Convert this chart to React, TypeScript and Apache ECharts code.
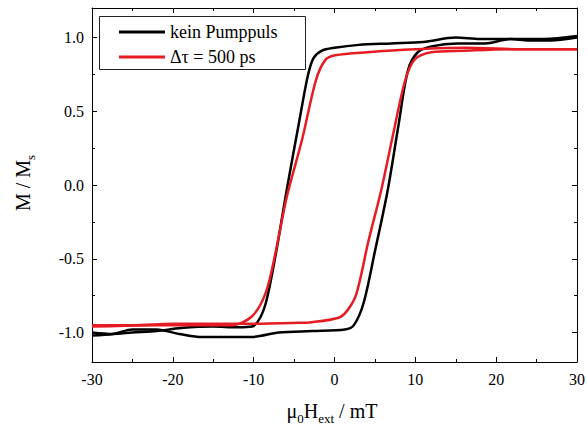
import React, { useEffect, useRef } from "react";
import * as echarts from "echarts";

const FONT = "Liberation Serif";

const seriesNames = ["kein Pumppuls", "Δτ = 500 ps"];
const seriesColors = ["#000000", "#e51c23"];

// black loop: descending branch (+30 -> -30)
const blackDescH = [30, 26, 22, 18, 15, 11, 7, 3, 0, -1.6, -2.6, -3.3, -4.4, -5.9, -7.3, -8.4, -9.2, -10.2, -12, -15, -19, -22, -25, -27.5, -30];
const blackDescM = [1.01, 0.99, 0.99, 0.99, 1.0, 0.97, 0.96, 0.95, 0.93, 0.91, 0.86, 0.74, 0.42, -0.03, -0.48, -0.78, -0.9, -0.96, -0.965, -0.96, -0.97, -0.99, -1.0, -1.01, -1.0];
// black loop: ascending branch (-30 -> +30)
const blackAscH = [-30, -27.4, -25, -22, -19.2, -16.7, -13, -10.2, -6.9, -2.8, 1.3, 2.4, 3.6, 5.0, 6.6, 7.9, 9.1, 10.3, 12, 15.2, 18.6, 21.8, 24, 26.7, 30];
const blackAscM = [-1.02, -1.01, -0.98, -0.98, -1.01, -1.03, -1.03, -1.03, -1.0, -0.99, -0.98, -0.95, -0.8, -0.45, -0.03, 0.4, 0.78, 0.9, 0.94, 0.96, 0.96, 0.99, 0.98, 0.98, 1.0];

// red loop: descending branch
const redDescH = [30, 24, 16, 10, 4, 0.1, -1.1, -2.3, -4.0, -5.9, -7.3, -8.5, -10.2, -12.7, -16.7, -22, -26, -30];
const redDescM = [0.92, 0.92, 0.93, 0.92, 0.9, 0.88, 0.85, 0.71, 0.31, -0.08, -0.46, -0.73, -0.89, -0.95, -0.95, -0.95, -0.955, -0.96];
// red loop: ascending branch
const redAscH = [-30, -25, -20, -15, -10.2, -5, -2.8, 0.5, 1.6, 2.7, 4.2, 5.8, 7.2, 8.7, 9.9, 12, 16, 22, 26, 30];
const redAscM = [-0.95, -0.95, -0.94, -0.94, -0.94, -0.935, -0.93, -0.9, -0.85, -0.74, -0.38, -0.03, 0.33, 0.7, 0.85, 0.9, 0.91, 0.92, 0.92, 0.92];

const yMajorTicks = [-1.0, -0.5, 0.0, 0.5, 1.0];
const yMinorTicks = [-0.75, -0.25, 0.25, 0.75];

const zip = (xs: number[], ys: number[]) => xs.map((x, i) => [x, ys[i]]);

export default function App() {
  const ref = useRef<HTMLDivElement>(null);
  useEffect(() => {
    if (!ref.current) return;
    const chart = echarts.init(ref.current, null, { renderer: "svg" });
    const black = "#000";
    const xAxisBase = (pos: "bottom" | "top", showLabel: boolean) => ({
      type: "value",
      position: pos,
      min: -30,
      max: 30,
      interval: 10,
      axisLine: { show: true, onZero: false, lineStyle: { color: black, width: 1 } },
      axisTick: { show: true, inside: true, length: 5, lineStyle: { color: black } },
      minorTick: { show: true, splitNumber: 2, length: 3, lineStyle: { color: black } },
      splitLine: { show: false },
      minorSplitLine: { show: false },
      axisLabel: { show: showLabel, color: black, fontFamily: FONT, fontSize: 16, margin: 9 },
    });
    const yAxisBase = (pos: "left" | "right", major: boolean, showLabel: boolean) => ({
      type: "value",
      position: pos,
      min: -1.2,
      max: 1.2,
      axisLine: { show: major, onZero: false, lineStyle: { color: black, width: 1 } },
      axisTick: {
        show: true,
        inside: true,
        length: major ? 5 : 3,
        customValues: major ? yMajorTicks : yMinorTicks,
        lineStyle: { color: black },
      },
      splitLine: { show: false },
      axisLabel: {
        show: showLabel,
        customValues: yMajorTicks,
        color: black,
        fontFamily: FONT,
        fontSize: 16,
        margin: 8,
        formatter: (v: number) => v.toFixed(1),
      },
    });
    const mkSeries = (name: string, color: string, data: number[][]) => ({
      type: "line",
      name,
      data,
      xAxisIndex: 0,
      yAxisIndex: 0,
      showSymbol: false,
      symbol: "none",
      smooth: 0.3,
      lineStyle: { color, width: 2.5 },
      itemStyle: { color },
    });
    chart.setOption({
      animation: false,
      backgroundColor: "#fff",
      textStyle: { fontFamily: FONT },
      grid: { left: 92, right: 8, top: 8, bottom: 68 },
      legend: {
        data: seriesNames,
        orient: "vertical",
        left: 99,
        top: 16,
        padding: [7, 20, 3, 20],
        itemGap: 7,
        icon: "rect",
        itemWidth: 46,
        itemHeight: 3,
        borderWidth: 0,
        textStyle: { color: black, fontFamily: FONT, fontSize: 18, lineHeight: 18 },
        z: 5,
      },
      xAxis: [xAxisBase("bottom", true), xAxisBase("top", false)],
      yAxis: [
        yAxisBase("left", true, true),
        yAxisBase("left", false, false),
        yAxisBase("right", true, false),
        yAxisBase("right", false, false),
      ],
      series: [
        mkSeries(seriesNames[0], seriesColors[0], zip(blackDescH, blackDescM)),
        mkSeries(seriesNames[0], seriesColors[0], zip(blackAscH, blackAscM)),
        mkSeries(seriesNames[1], seriesColors[1], zip(redDescH, redDescM)),
        mkSeries(seriesNames[1], seriesColors[1], zip(redAscH, redAscM)),
      ],
      graphic: [
        {
          type: "rect",
          z: 4,
          shape: { x: 99.5, y: 16.5, width: 206, height: 53 },
          style: { fill: "#fff", stroke: "#222", lineWidth: 1 },
        },
        {
          type: "text",
          x: 332,
          y: 411,
          style: {
            text: "{m|μ}{s|0}{m|H}{s|ext}{m| / mT}",
            align: "center",
            verticalAlign: "middle",
            rich: {
              m: { fill: black, fontFamily: FONT, fontSize: 20, lineHeight: 20, verticalAlign: "top" },
              s: { fill: black, fontFamily: FONT, fontSize: 13, lineHeight: 13, verticalAlign: "top", padding: [11, 0, 0, 0] },
            },
          },
        },
        {
          type: "text",
          x: 23,
          y: 183,
          rotation: Math.PI / 2,
          style: {
            text: "{m|M / M}{s|s}",
            align: "center",
            verticalAlign: "middle",
            rich: {
              m: { fill: black, fontFamily: FONT, fontSize: 20, lineHeight: 20, verticalAlign: "top" },
              s: { fill: black, fontFamily: FONT, fontSize: 13, lineHeight: 13, verticalAlign: "top", padding: [11, 0, 0, 0] },
            },
          },
        },
      ],
    });
    return () => chart.dispose();
  }, []);
  return (
    <div
      ref={ref}
      style={{ position: "fixed", left: 0, top: 0, width: 588, height: 430, background: "#fff" }}
    />
  );
}
